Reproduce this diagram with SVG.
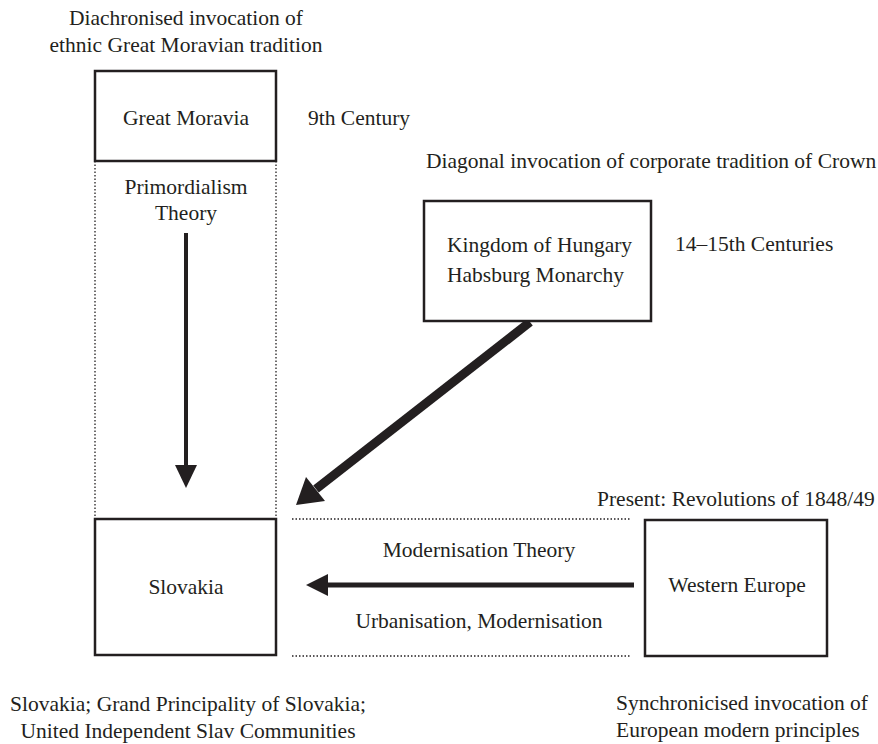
<svg xmlns="http://www.w3.org/2000/svg" width="878" height="744" viewBox="0 0 878 744">
<style>
text{font-family:"Liberation Serif","Times New Roman",serif;font-size:21.5px;fill:#231f20}
.c{text-anchor:middle}
.box{fill:#fff;stroke:#231f20;stroke-width:2.5}
.dot{stroke:#231f20;stroke-width:1.3;stroke-dasharray:1.5 2;fill:none}
</style>
<rect width="878" height="744" fill="#fff"/>
<g id="connectors">
<line class="dot" x1="95" y1="161" x2="95" y2="519"/>
<line class="dot" x1="276" y1="161" x2="276" y2="519"/>
<line class="dot" x1="292" y1="519" x2="630" y2="519"/>
<line class="dot" x1="292" y1="656" x2="630" y2="656"/>
<g id="arrow-primordial">
<line x1="186" y1="233" x2="186" y2="468" stroke="#231f20" stroke-width="4"/>
<polygon points="175,465 197,465 186,488" fill="#231f20"/>
</g>
<g id="arrow-modern">
<line x1="634" y1="585" x2="325" y2="585" stroke="#231f20" stroke-width="5"/>
<polygon points="306,585 328,574 328,596" fill="#231f20"/>
</g>
<g id="arrow-diagonal">
<line x1="530" y1="322" x2="316" y2="489" stroke="#231f20" stroke-width="9"/>
<polygon points="296,505 306,477 325,501" fill="#231f20"/>
</g>
</g>
<g id="great-moravia">
<rect class="box" x="95" y="71" width="181" height="90"/>
<text class="c" x="186" y="125">Great Moravia</text>
</g>
<g id="kingdom">
<rect class="box" x="424" y="201" width="227" height="120"/>
<text x="447" y="252">Kingdom of Hungary</text>
<text x="447" y="282">Habsburg Monarchy</text>
</g>
<g id="slovakia">
<rect class="box" x="95" y="519" width="181" height="136"/>
<text class="c" x="186" y="594">Slovakia</text>
</g>
<g id="western-europe">
<rect class="box" x="645" y="520" width="182" height="136"/>
<text class="c" x="737" y="592">Western Europe</text>
</g>
<g id="labels">
<text class="c" x="186" y="25">Diachronised invocation of</text>
<text class="c" x="186" y="52">ethnic Great Moravian tradition</text>
<text x="308" y="125">9th Century</text>
<text x="426" y="168">Diagonal invocation of corporate tradition of Crown</text>
<text class="c" x="186" y="194">Primordialism</text>
<text class="c" x="186" y="220">Theory</text>
<text x="675" y="251">14–15th Centuries</text>
<text x="597" y="506">Present: Revolutions of 1848/49</text>
<text class="c" x="479" y="557">Modernisation Theory</text>
<text class="c" x="479" y="628">Urbanisation, Modernisation</text>
<text class="c" x="188" y="711">Slovakia; Grand Principality of Slovakia;</text>
<text class="c" x="188" y="738">United Independent Slav Communities</text>
<text x="616" y="710">Synchronicised invocation of</text>
<text x="616" y="737">European modern principles</text>
</g>
</svg>
